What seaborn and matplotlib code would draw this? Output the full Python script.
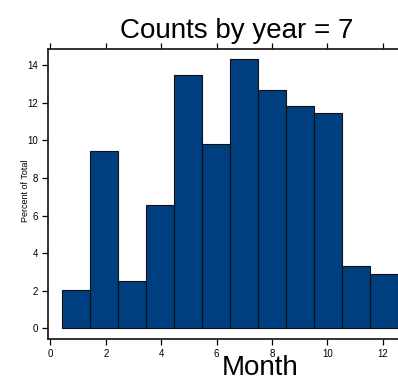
import numpy as np
import pandas as pd
import matplotlib
matplotlib.use("Agg")
import matplotlib.pyplot as plt
import seaborn as sns

# Data
months = [1, 2, 3, 4, 5, 6, 7, 8, 9, 10, 11, 12]
percents = [2.06, 9.44, 2.50, 6.56, 13.50, 9.81, 14.32, 12.71, 11.86, 11.47, 3.33, 2.90]
bin_start = 0.40
bin_stop = 12.57
x_ticks = [0, 2, 4, 6, 8, 10, 12]
y_ticks = [0, 2, 4, 6, 8, 10, 12, 14]
title = "Counts by year = 7"
x_label = "Month"
y_label = "Percent of Total"

sns.set_style("white")
plt.rcParams['font.family'] = ['Liberation Sans', 'DejaVu Sans']
plt.rcParams['text.color'] = 'black'
plt.rcParams['xtick.color'] = 'black'
plt.rcParams['ytick.color'] = 'black'
plt.rcParams['axes.labelcolor'] = 'black'

W, H = 398, 379
fig = plt.figure(figsize=(W / 100, H / 100), dpi=100)
left, right, top, bottom = 48, 412, 49, 339
ax = fig.add_axes([left / W, 1 - bottom / H, (right - left) / W, (bottom - top) / H])

df = pd.DataFrame({"month": months, "pct": percents})
sns.histplot(data=df, x="month", weights="pct",
             binwidth=(bin_stop - bin_start) / len(months),
             binrange=(bin_start, bin_stop), ax=ax,
             color="#003f7f", alpha=1.0, edgecolor="#111111", linewidth=0.8)

ax.set_xlim(-0.09, 13.06)
ax.set_ylim(-0.57, 14.87)
ax.set_xticks(x_ticks)
ax.set_yticks(y_ticks)
ax.tick_params(axis="both", direction="out", length=4, width=0.9,
               labelsize=7, pad=3)
ax.tick_params(axis="x", top=True, labeltop=False, bottom=True)
ax.tick_params(axis="y", left=True, right=True, labelright=False)
for s in ax.spines.values():
    s.set_visible(True)
    s.set_color("#222222")
    s.set_linewidth(1.3)
ax.set_xlabel("")
ax.set_ylabel(y_label, fontsize=6.5)
ax.yaxis.set_label_coords((30 - left) / (right - left), (bottom - 191) / (bottom - top))

fig.text(237 / W, 1 - 37.5 / H, title, ha="center", va="baseline", fontsize=20)
fig.text(260 / W, 1 - 375 / H, x_label, ha="center", va="baseline", fontsize=20)

fig.savefig("out.png", dpi=100)
